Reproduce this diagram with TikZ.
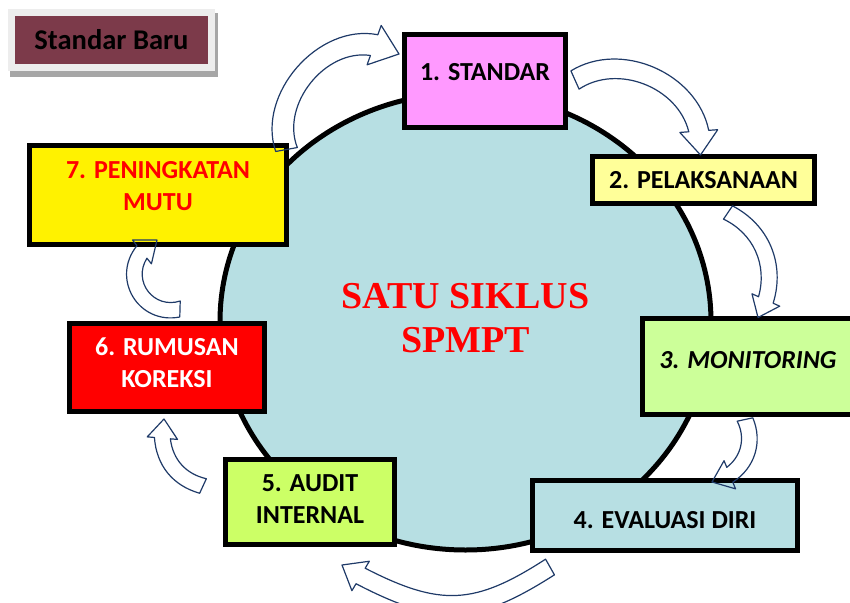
\documentclass[tikz,border=0pt]{standalone}
\usepackage{fontspec}
\setmainfont{Carlito}
\newfontfamily\titlefont{Liberation Serif}
\usetikzlibrary{shapes.geometric, calc}

\definecolor{arrowblue}{HTML}{1F3A68}
\definecolor{siklusblue}{HTML}{B7DFE3}
\definecolor{barured}{RGB}{124,58,74}
\definecolor{standarpink}{HTML}{FF99FF}
\definecolor{pelakyellow}{HTML}{FFFF99}
\definecolor{monigreen}{HTML}{CCFF99}
\definecolor{auditgreen}{HTML}{CCFF66}

% curved block arrow: tail, tip, bend, looseness, half width (px)
\newcommand\cyclearrow[5]{%
  \pgfmathsetmacro\bodyw{#5*0.75}%
  \pgfmathsetmacro\headw{#5*1.9*0.75}%
  \pgfmathsetmacro\headl{#5*2.4*0.75}%
  \pgfmathsetmacro\angl{#3+90}%
  \pgfmathsetmacro\angr{#3-90}%
  \pgfmathsetmacro\angb{-#3}%
  \coordinate (tail) at (#1);
  \coordinate (tip) at (#2);
  \coordinate (neck) at ($(tip)!\headl pt!\angb:(tail)$);
  \draw[ribbon] ($(tail)!\bodyw pt!\angl:(tip)$)
      to[bend left=#3, looseness=#4] ($(neck)!\bodyw pt!90:(tip)$)
      -- ($(neck)!\headw pt!90:(tip)$) -- (tip)
      -- ($(neck)!\headw pt!-90:(tip)$) -- ($(neck)!\bodyw pt!-90:(tip)$)
      to[bend right=#3, looseness=#4] ($(tail)!\bodyw pt!\angr:(tip)$) -- cycle;
}

\begin{document}
\begin{tikzpicture}[
    x=0.75pt, y=-0.75pt,
    every node/.style={font=\bfseries\fontsize{19.5}{24}\selectfont, align=center, inner sep=0pt},
    stage/.style={draw, line width=3.75pt},
    siklus/.style={ellipse, draw, line width=3.75pt, fill=siklusblue,
        minimum width=368.25pt, minimum height=342.75pt, text=red,
        font=\titlefont\bfseries\fontsize{28.5}{33}\selectfont},
    baru/.style={fill=barured, draw=black!7, line width=5.25pt,
        minimum width=150pt, minimum height=41.25pt,
        font=\bfseries\fontsize{21.4}{25}\selectfont},
    ribbon/.style={draw=arrowblue, line width=0.9pt, line join=round}
]
\useasboundingbox (0,0) rectangle (850,603);

% Label in the corner
\fill[black!35] (10,13) rectangle (218,77);
\node[baru] (baru) at (111.5,40) {Standar Baru};

% The cycle
\node[siklus, text depth=5.25pt] (siklus) at (465.5,321.5) {SATU SIKLUS\\SPMPT};

% Stages
\node[stage, fill=standarpink, minimum width=120.75pt, minimum height=69.75pt, text depth=13.5pt] (standar) at (485,81) {1. STANDAR};
\node[stage, fill=pelakyellow, minimum width=166.5pt, minimum height=35.25pt] (pelaksanaan) at (703.5,180) {2. PELAKSANAAN};
\node[stage, fill=monigreen, minimum width=158.25pt, minimum height=72pt, text depth=9.75pt, font=\bfseries\itshape\fontsize{19.5}{24}\selectfont] (monitoring) at (748,366.5) {3. MONITORING};
\node[stage, fill=siklusblue, minimum width=198.75pt, minimum height=52.5pt, text height=19.5pt] (evaluasi) at (665,515.5) {4. EVALUASI DIRI};
\node[stage, fill=auditgreen, minimum width=126.75pt, minimum height=63.75pt, text depth=4.5pt] (audit) at (310,502) {5. AUDIT\\INTERNAL};
\node[stage, fill=red, text=white, minimum width=146.25pt, minimum height=66pt, text depth=7.5pt] (rumusan) at (167,367.5) {6. RUMUSAN\\KOREKSI};
\node[stage, fill=yellow, text=red, minimum width=192.75pt, minimum height=74.25pt, text depth=13.5pt] (peningkatan) at (158,195) {7. PENINGKATAN\\MUTU};

% Arrows round the cycle
\cyclearrow{$(peningkatan.north east)+(-2.5,6.5)$}{$(standar.north west)+(-3,22)$}{60}{1}{11}
\cyclearrow{$(standar.east)+(7,-1)$}{$(pelaksanaan.north)+(-3,1)$}{55}{1}{10}
\cyclearrow{$(pelaksanaan.south)+(24.5,6.5)$}{$(monitoring.north)+(10,1.5)$}{40}{1}{8}
\cyclearrow{$(monitoring.south)+(-3,2.5)$}{$(evaluasi.north)+(47,4)$}{40}{1}{8}
\cyclearrow{$(evaluasi.south west)+(20,14)$}{$(audit.south east)+(-55,18)$}{30}{1.2}{9}
\cyclearrow{$(audit.west)+(-20,-16)$}{$(rumusan.south)+(-3,5)$}{35}{1}{8}
\cyclearrow{$(rumusan.north)+(13,-12)$}{$(peningkatan.south)+(-1,-7)$}{70}{1.3}{8}

\end{tikzpicture}
\end{document}
